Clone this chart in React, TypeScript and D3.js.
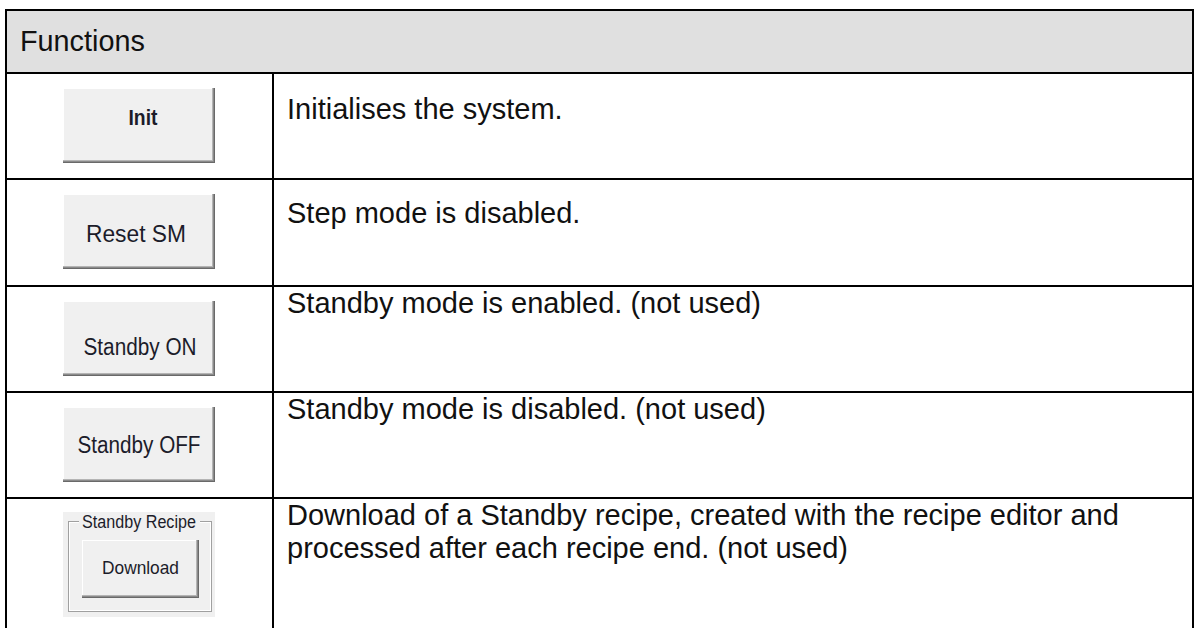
import React from 'react'
import * as d3 from 'd3'

// table content
const headerTitle = 'Functions'
const buttonLabels = ['Init', 'Reset SM', 'Standby ON', 'Standby OFF', 'Download']
const descriptions = [
  ['Initialises the system.'],
  ['Step mode is disabled.'],
  ['Standby mode is enabled. (not used)'],
  ['Standby mode is disabled. (not used)'],
  ['Download of a Standby recipe, created with the recipe editor and', 'processed after each recipe end. (not used)'],
]
const groupLabel = 'Standby Recipe'

const W = 1197
const H = 628
const left = 6
const divider = 273
const right = 1193
const top = 10
const headerBottom = 73

// layout tweaks
const descBaseline = [46, 44, 27, 27, 27]
const labelBaseline = [37, 48, 54, 46]
const labelWidth = [29, 100, 113, 123]
const labelShift = [4, -3, 1, 0]

const BODY_FONT = 'Arial, "Liberation Sans", sans-serif'

function Button({ x, y, w, h, label, bold, size, baseline, textW, shift = 0 }: any) {
  return (
    <g>
      <rect x={x} y={y} width={w} height={h} fill="#f0f0f0" />
      <line x1={x} y1={y + 0.5} x2={x + w} y2={y + 0.5} stroke="#ffffff" />
      <line x1={x + 0.5} y1={y} x2={x + 0.5} y2={y + h} stroke="#ffffff" />
      <line x1={x} y1={y + h - 2.5} x2={x + w - 2} y2={y + h - 2.5} stroke="#b4b4b4" />
      <line x1={x + w - 2.5} y1={y} x2={x + w - 2.5} y2={y + h - 2} stroke="#b4b4b4" />
      <line x1={x} y1={y + h - 1.5} x2={x + w - 1} y2={y + h - 1.5} stroke="#8a8a8a" />
      <line x1={x + w - 1.5} y1={y} x2={x + w - 1.5} y2={y + h - 1} stroke="#8a8a8a" />
      <line x1={x} y1={y + h - 0.5} x2={x + w} y2={y + h - 0.5} stroke="#696969" />
      <line x1={x + w - 0.5} y1={y} x2={x + w - 0.5} y2={y + h} stroke="#696969" />
      <text x={x + w / 2 + shift} y={y + baseline} textAnchor="middle" fontFamily={BODY_FONT}
        fontSize={size} fontWeight={bold ? 'bold' : 'normal'} fill="#1c1c2a"
        textLength={textW} lengthAdjust="spacingAndGlyphs">{label}</text>
    </g>
  )
}

export default function App() {
  const rowY = d3.scaleLinear().domain([0, 4]).range([headerBottom, 498])
  const rows = d3.range(descriptions.length)

  const btnX = 63
  const btnW = 152
  const btnH = 75
  const textX = 287

  return (
    <svg width={W} height={H} style={{ position: 'absolute', left: 0, top: 0, background: '#fff' }}>
      <rect x={left} y={top} width={right - left} height={headerBottom - top} fill="#e0e0e0" />
      <text x={20} y={51} fontFamily={BODY_FONT} fontSize={28.8} fill="#111">{headerTitle}</text>

      {rows.map(i => {
        const y0 = rowY(i)
        return (
          <g key={i}>
            {descriptions[i].map((line, j) => (
              <text key={j} x={textX} y={y0 + descBaseline[i] + j * 33} fontFamily={BODY_FONT}
                fontSize={29} fill="#111">{line}</text>
            ))}
          </g>
        )
      })}

      {rows.slice(0, 4).map(i => (
        <Button key={i} x={btnX} y={Math.round(rowY(i)) + 15} w={btnW} h={btnH}
          label={buttonLabels[i]} bold={i === 0} size={i === 0 ? 21.5 : 23}
          baseline={labelBaseline[i]} textW={labelWidth[i]} shift={labelShift[i]} />
      ))}

      {/* group box with the download button */}
      <g>
        <rect x={btnX} y={rowY(4) + 14} width={btnW} height={105} fill="#f0f0f0" />
        <rect x={68.5} y={rowY(4) + 23.5} width={143} height={90} fill="none" stroke="#a0a0a0" />
        <rect x={69.5} y={rowY(4) + 24.5} width={141} height={88} fill="none" stroke="#ffffff" />
        <rect x={79} y={rowY(4) + 16} width={121} height={16} fill="#f0f0f0" />
        <text x={82} y={rowY(4) + 30} fontFamily={BODY_FONT} fontSize={17.5} fill="#1c1c2a"
          textLength={114} lengthAdjust="spacingAndGlyphs">{groupLabel}</text>
        <Button x={82} y={rowY(4) + 42} w={117} h={58} label={buttonLabels[4]} size={19}
          baseline={34} textW={77} />
      </g>

      {/* grid lines */}
      <g stroke="#000" strokeWidth={2}>
        <line x1={left - 1} y1={top} x2={right + 1} y2={top} />
        <line x1={left - 1} y1={headerBottom} x2={right + 1} y2={headerBottom} />
        {rows.slice(1).map(i => (
          <line key={i} x1={left} y1={Math.round(rowY(i))} x2={right} y2={Math.round(rowY(i))} />
        ))}
        <line x1={left} y1={top} x2={left} y2={H} />
        <line x1={right} y1={top} x2={right} y2={H} />
        <line x1={divider} y1={headerBottom} x2={divider} y2={H} />
      </g>
    </svg>
  )
}
